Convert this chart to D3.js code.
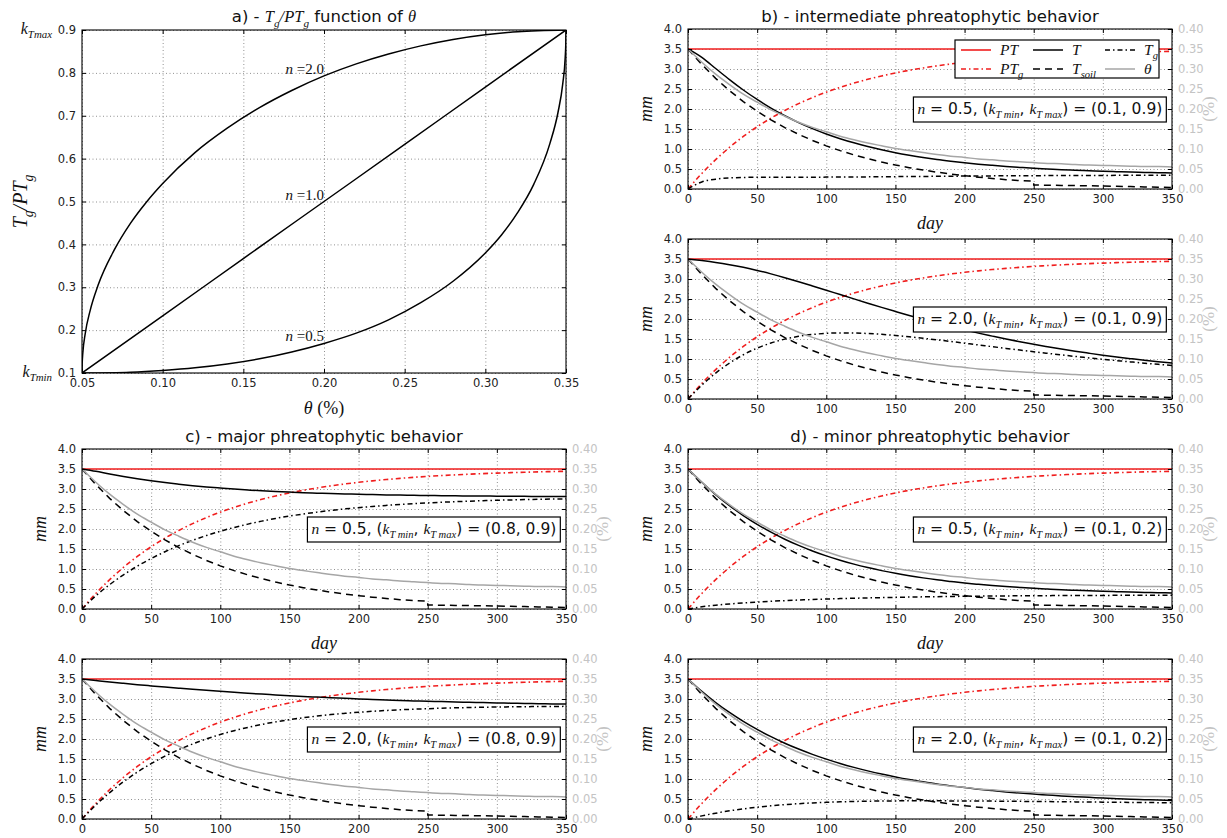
<!DOCTYPE html>
<html>
<head>
<meta charset="utf-8">
<script src="https://cdn.jsdelivr.net/npm/d3@7"></script>
<style>
  body { margin: 0; background: #fff; }
  svg { display: block; }
</style>
</head>
<body>
<svg id="fig" width="1227" height="838"></svg>
<script>
// ---------------------------------------------------------------
// Panel a: groundwater transpiration ratio Tg/PTg versus soil moisture
// ---------------------------------------------------------------
const thetaN20 = [0.05, 0.0501, 0.0505, 0.052, 0.055, 0.06, 0.07, 0.08, 0.09, 0.10, 0.12, 0.14, 0.16, 0.18, 0.20, 0.22, 0.24, 0.26, 0.28, 0.30, 0.32, 0.35];
const ratioN20 = [0.100, 0.121, 0.146, 0.192, 0.245, 0.305, 0.387, 0.449, 0.499, 0.542, 0.614, 0.671, 0.719, 0.759, 0.793, 0.821, 0.844, 0.863, 0.878, 0.889, 0.896, 0.900];
const thetaN10 = [0.05, 0.10, 0.15, 0.20, 0.25, 0.30, 0.35];
const ratioN10 = [0.100, 0.233, 0.367, 0.500, 0.633, 0.767, 0.900];
const thetaN05 = [0.05, 0.08, 0.10, 0.12, 0.14, 0.16, 0.18, 0.20, 0.22, 0.24, 0.26, 0.28, 0.30, 0.31, 0.32, 0.33, 0.34, 0.345, 0.348, 0.3495, 0.3499, 0.35];
const ratioN05 = [0.100, 0.102, 0.106, 0.112, 0.121, 0.133, 0.149, 0.169, 0.193, 0.224, 0.264, 0.314, 0.380, 0.422, 0.474, 0.540, 0.635, 0.707, 0.775, 0.836, 0.871, 0.900];
const exponentLabels = ["n=2.0", "n=1.0", "n=0.5"];
const thetaTicksA = [0.05, 0.10, 0.15, 0.20, 0.25, 0.30, 0.35];
const ratioTicksA = [0.1, 0.2, 0.3, 0.4, 0.5, 0.6, 0.7, 0.8, 0.9];

// ---------------------------------------------------------------
// Panels b-d: daily series (mm) and soil moisture (%)
// ---------------------------------------------------------------
const days = [0, 10, 20, 30, 40, 50, 60, 70, 80, 90, 100, 110, 120, 130, 140, 150, 160, 170, 180, 190, 200, 210, 220, 230, 240, 250, 260, 270, 280, 290, 300, 310, 320, 330, 340, 350];
const ptDays = [0, 350];
const ptMm = [3.5, 3.5];
const ptgMm = [0, 0.389, 0.734, 1.041, 1.314, 1.556, 1.772, 1.964, 2.134, 2.286, 2.421, 2.541, 2.647, 2.742, 2.826, 2.901, 2.967, 3.026, 3.079, 3.126, 3.167, 3.204, 3.237, 3.266, 3.292, 3.315, 3.336, 3.354, 3.370, 3.385, 3.397, 3.409, 3.419, 3.428, 3.436, 3.443];
const thetaPct = [0.350, 0.317, 0.287, 0.261, 0.237, 0.217, 0.198, 0.182, 0.167, 0.154, 0.143, 0.132, 0.123, 0.115, 0.108, 0.101, 0.096, 0.091, 0.086, 0.082, 0.079, 0.075, 0.073, 0.070, 0.068, 0.066, 0.064, 0.063, 0.061, 0.060, 0.059, 0.058, 0.057, 0.056, 0.056, 0.055];
const tsoilDays = [0, 10, 20, 30, 40, 50, 60, 70, 80, 90, 100, 110, 120, 130, 140, 150, 160, 170, 180, 190, 200, 210, 220, 230, 240, 250, 250, 260, 270, 280, 290, 300, 310, 320, 330, 340, 350];
const tsoilMm = [3.500, 3.112, 2.766, 2.459, 2.186, 1.944, 1.728, 1.536, 1.366, 1.214, 1.079, 0.959, 0.853, 0.758, 0.674, 0.599, 0.533, 0.474, 0.421, 0.375, 0.333, 0.296, 0.263, 0.234, 0.208, 0.195, 0.100, 0.095, 0.090, 0.085, 0.080, 0.075, 0.068, 0.060, 0.052, 0.045, 0.040];

const tgB05 = [0, 0.177, 0.246, 0.276, 0.289, 0.294, 0.295, 0.295, 0.295, 0.296, 0.297, 0.299, 0.301, 0.303, 0.306, 0.309, 0.312, 0.314, 0.317, 0.320, 0.323, 0.325, 0.328, 0.330, 0.332, 0.333, 0.335, 0.336, 0.338, 0.339, 0.340, 0.341, 0.342, 0.343, 0.344, 0.344];
const tB05 = [3.500, 3.289, 3.012, 2.735, 2.475, 2.238, 2.023, 1.831, 1.661, 1.510, 1.376, 1.258, 1.154, 1.061, 0.980, 0.908, 0.845, 0.788, 0.738, 0.695, 0.656, 0.621, 0.591, 0.564, 0.540, 0.518, 0.500, 0.482, 0.468, 0.455, 0.443, 0.432, 0.423, 0.415, 0.408, 0.401];
const tgB20 = [0, 0.348, 0.648, 0.899, 1.106, 1.271, 1.400, 1.497, 1.566, 1.613, 1.641, 1.652, 1.650, 1.638, 1.616, 1.589, 1.555, 1.518, 1.479, 1.438, 1.395, 1.351, 1.309, 1.265, 1.223, 1.182, 1.142, 1.103, 1.064, 1.028, 0.993, 0.960, 0.928, 0.896, 0.867, 0.840];
const tB20 = [3.500, 3.460, 3.414, 3.358, 3.292, 3.215, 3.128, 3.033, 2.932, 2.827, 2.720, 2.611, 2.503, 2.396, 2.290, 2.188, 2.088, 1.992, 1.900, 1.813, 1.728, 1.647, 1.572, 1.499, 1.431, 1.367, 1.307, 1.249, 1.194, 1.144, 1.096, 1.051, 1.009, 0.968, 0.931, 0.897];
const tgC05 = [0, 0.329, 0.609, 0.854, 1.071, 1.262, 1.432, 1.584, 1.717, 1.837, 1.944, 2.038, 2.122, 2.197, 2.264, 2.323, 2.375, 2.422, 2.464, 2.502, 2.534, 2.564, 2.590, 2.613, 2.634, 2.652, 2.669, 2.683, 2.696, 2.708, 2.718, 2.727, 2.735, 2.742, 2.749, 2.754];
const tC05 = [3.500, 3.441, 3.375, 3.313, 3.257, 3.206, 3.160, 3.120, 3.083, 3.051, 3.023, 2.997, 2.975, 2.955, 2.938, 2.922, 2.908, 2.896, 2.885, 2.877, 2.867, 2.860, 2.853, 2.847, 2.842, 2.837, 2.834, 2.829, 2.826, 2.824, 2.821, 2.818, 2.816, 2.814, 2.813, 2.811];
const tgC20 = [0, 0.350, 0.659, 0.932, 1.173, 1.384, 1.570, 1.734, 1.876, 2.002, 2.112, 2.208, 2.291, 2.364, 2.428, 2.483, 2.531, 2.573, 2.610, 2.641, 2.668, 2.692, 2.713, 2.730, 2.745, 2.758, 2.770, 2.779, 2.787, 2.794, 2.799, 2.805, 2.808, 2.812, 2.814, 2.816];
const tC20 = [3.500, 3.462, 3.425, 3.391, 3.359, 3.328, 3.298, 3.270, 3.242, 3.216, 3.191, 3.167, 3.144, 3.122, 3.102, 3.082, 3.064, 3.047, 3.031, 3.016, 3.001, 2.988, 2.976, 2.964, 2.953, 2.943, 2.935, 2.925, 2.917, 2.910, 2.902, 2.896, 2.889, 2.884, 2.878, 2.873];
const tgD05 = [0, 0.056, 0.095, 0.126, 0.151, 0.173, 0.192, 0.209, 0.224, 0.237, 0.249, 0.260, 0.269, 0.278, 0.285, 0.292, 0.298, 0.304, 0.309, 0.314, 0.317, 0.321, 0.324, 0.327, 0.330, 0.332, 0.334, 0.335, 0.337, 0.339, 0.340, 0.341, 0.342, 0.343, 0.344, 0.344];
const tD05 = [3.500, 3.168, 2.861, 2.585, 2.337, 2.117, 1.920, 1.745, 1.590, 1.451, 1.328, 1.219, 1.122, 1.036, 0.959, 0.891, 0.831, 0.778, 0.730, 0.689, 0.650, 0.617, 0.587, 0.561, 0.538, 0.517, 0.498, 0.481, 0.467, 0.455, 0.443, 0.432, 0.423, 0.415, 0.408, 0.401];
const tgD20 = [0, 0.078, 0.145, 0.204, 0.253, 0.295, 0.330, 0.359, 0.383, 0.402, 0.417, 0.429, 0.438, 0.445, 0.449, 0.453, 0.454, 0.455, 0.454, 0.453, 0.452, 0.449, 0.447, 0.444, 0.441, 0.438, 0.435, 0.431, 0.428, 0.425, 0.421, 0.418, 0.415, 0.412, 0.409, 0.406];
const tD20 = [3.500, 3.190, 2.911, 2.663, 2.439, 2.239, 2.058, 1.895, 1.749, 1.616, 1.496, 1.388, 1.291, 1.203, 1.123, 1.052, 0.987, 0.929, 0.875, 0.828, 0.785, 0.745, 0.710, 0.678, 0.649, 0.623, 0.600, 0.577, 0.558, 0.541, 0.524, 0.509, 0.496, 0.484, 0.473, 0.463];

const dayTicks = [0, 50, 100, 150, 200, 250, 300, 350];
const mmTicks = [0.0, 0.5, 1.0, 1.5, 2.0, 2.5, 3.0, 3.5, 4.0];
const pctTicks = [0.00, 0.05, 0.10, 0.15, 0.20, 0.25, 0.30, 0.35, 0.40];

// ---------------------------------------------------------------
// Styling and layout
// ---------------------------------------------------------------
const SANS = "'DejaVu Sans', sans-serif";
const SERIF = "'Liberation Serif', 'DejaVu Serif', serif";
const RED = "#f01e1e";
const GRAY = "#a6a6a6";
const LIGHT = "#c4c4c4";
const DASHDOT = "5,3,1.5,3";
const DASHED = "7,5";

const PW = 484, PH = 160;
const COL_X = { L: 82, R: 688 };
const ROW_Y = [29, 239, 449, 659];

const svg = d3.select("#fig");
const defs = svg.append("defs");

// text made of plain, italic-serif and subscript pieces
function richText(parent, x, y, parts, opts) {
  const size = opts.size;
  const t = parent.append("text")
    .attr("x", x).attr("y", y)
    .attr("font-size", size)
    .attr("text-anchor", opts.anchor || "start")
    .attr("fill", opts.fill || "#111");
  if (opts.transform) t.attr("transform", opts.transform);
  let shift = 0;
  parts.forEach(p => {
    const ts = t.append("tspan").text(p.t)
      .attr("font-family", p.serif ? SERIF : SANS)
      .attr("font-style", p.it ? "italic" : "normal");
    const target = p.sub ? size * 0.28 : 0;
    if (target !== shift) { ts.attr("dy", target - shift); shift = target; }
    if (p.sub) ts.attr("font-size", size * 0.68);
  });
  return t;
}

function styleAxis(sel, color) {
  sel.select(".domain").remove();
  sel.selectAll(".tick line").attr("stroke", "#000").attr("stroke-width", 1);
  sel.selectAll(".tick text").attr("fill", color || "#222")
    .attr("font-family", SANS).attr("font-size", 11.5);
}

function gridAndFrame(g, xs, ys, box, xTicks, yTicks) {
  const grid = g.append("g");
  grid.append("g").attr("transform", `translate(0,${box.y + box.h})`)
    .call(d3.axisBottom(xs).tickValues(xTicks).tickSize(-box.h).tickFormat(""));
  grid.append("g").attr("transform", `translate(${box.x},0)`)
    .call(d3.axisLeft(ys).tickValues(yTicks).tickSize(-box.w).tickFormat(""));
  grid.selectAll(".domain").remove();
  grid.selectAll(".tick line")
    .attr("stroke", "#000").attr("stroke-opacity", 0.55)
    .attr("stroke-width", 0.8).attr("stroke-dasharray", "1,2.5");
}

function tickAxes(g, xs, ys, box, o) {
  const bottom = box.y + box.h, right = box.x + box.w;
  const xb = g.append("g").attr("transform", `translate(0,${bottom})`)
    .call(d3.axisBottom(xs).tickValues(o.xTicks).tickSizeInner(-4).tickSizeOuter(0).tickPadding(6).tickFormat(o.xFmt));
  styleAxis(xb);
  const xt = g.append("g").attr("transform", `translate(0,${box.y})`)
    .call(d3.axisTop(xs).tickValues(o.xTicks).tickSizeInner(-4).tickSizeOuter(0).tickFormat(""));
  styleAxis(xt);
  const yl = g.append("g").attr("transform", `translate(${box.x},0)`)
    .call(d3.axisLeft(ys).tickValues(o.yTicks).tickSizeInner(-4).tickSizeOuter(0).tickPadding(6).tickFormat(o.yFmt));
  styleAxis(yl);
  const yr = g.append("g").attr("transform", `translate(${right},0)`);
  if (o.y2) {
    yr.call(d3.axisRight(o.y2).tickValues(o.y2Ticks).tickSizeInner(-4).tickSizeOuter(0).tickPadding(6).tickFormat(o.y2Fmt));
    styleAxis(yr, LIGHT);
  } else {
    yr.call(d3.axisRight(ys).tickValues(o.yTicks).tickSizeInner(-4).tickSizeOuter(0).tickFormat(""));
    styleAxis(yr);
  }
  g.append("rect").attr("x", box.x).attr("y", box.y).attr("width", box.w).attr("height", box.h)
    .attr("fill", "none").attr("stroke", "#000").attr("stroke-width", 1.1);
}

// ---------------------------------------------------------------
// Panel a
// ---------------------------------------------------------------
(function drawPanelA() {
  const box = { x: 82, y: 30, w: 484, h: 343 };
  const g = svg.append("g");
  const xs = d3.scaleLinear().domain([0.05, 0.35]).range([box.x, box.x + box.w]);
  const ys = d3.scaleLinear().domain([0.1, 0.9]).range([box.y + box.h, box.y]);

  gridAndFrame(g, xs, ys, box, thetaTicksA, ratioTicksA);

  defs.append("clipPath").attr("id", "clip-a").append("rect")
    .attr("x", box.x).attr("y", box.y).attr("width", box.w).attr("height", box.h);
  const line = d3.line().x(d => xs(d[0])).y(d => ys(d[1])).curve(d3.curveMonotoneX);
  const curves = [[thetaN20, ratioN20], [thetaN10, ratioN10], [thetaN05, ratioN05]];
  const lines = g.append("g").attr("clip-path", "url(#clip-a)");
  curves.forEach(([tx, ry]) => {
    lines.append("path").datum(d3.zip(tx, ry)).attr("d", line)
      .attr("fill", "none").attr("stroke", "#000").attr("stroke-width", 1.5);
  });

  // n labels sit just above each curve, ending at theta = 0.20
  curves.forEach(([tx, ry], i) => {
    const k = tx.indexOf(0.20);
    const [nPart, rest] = exponentLabels[i].split("=");
    richText(g, xs(tx[k]), ys(ry[k]) - 2, [
      { t: nPart + " ", serif: true, it: true },
      { t: "=" + rest, serif: true }
    ], { size: 15, anchor: "end" });
  });

  tickAxes(g, xs, ys, box, {
    xTicks: thetaTicksA, xFmt: d3.format(".2f"),
    yTicks: ratioTicksA, yFmt: d3.format(".1f")
  });

  // bound labels beside the end ticks
  richText(g, 52, ys(0.9) + 4, [
    { t: "k", serif: true, it: true }, { t: "Tmax", serif: true, it: true, sub: true }
  ], { size: 16, anchor: "end" });
  richText(g, 52, ys(0.1) + 4, [
    { t: "k", serif: true, it: true }, { t: "Tmin", serif: true, it: true, sub: true }
  ], { size: 16, anchor: "end" });

  // title
  richText(g, box.x + box.w / 2, box.y - 8, [
    { t: "a) - " },
    { t: "T", serif: true, it: true }, { t: "g", serif: true, it: true, sub: true },
    { t: "/PT", serif: true, it: true }, { t: "g", serif: true, it: true, sub: true },
    { t: " function of " },
    { t: "θ", serif: true, it: true }
  ], { size: 16.5, anchor: "middle" });

  // axis labels
  richText(g, box.x + box.w / 2, box.y + box.h + 41, [
    { t: "θ", serif: true, it: true }, { t: " (%)", serif: true }
  ], { size: 18, anchor: "middle" });
  const cy = box.y + box.h / 2;
  richText(g, 27, cy, [
    { t: "T", serif: true, it: true }, { t: "g", serif: true, it: true, sub: true },
    { t: "/PT", serif: true, it: true }, { t: "g", serif: true, it: true, sub: true }
  ], { size: 20, anchor: "middle", transform: `rotate(-90,27,${cy})` });
})();

// ---------------------------------------------------------------
// Panels b, c, d
// ---------------------------------------------------------------
const panels = [
  { id: "b1", col: "R", row: 0, title: "b) - intermediate phreatophytic behavior", tg: tgB05, t: tB05, n: "0.5", k: "(0.1, 0.9)", legend: true, dayLabel: true },
  { id: "b2", col: "R", row: 1, tg: tgB20, t: tB20, n: "2.0", k: "(0.1, 0.9)" },
  { id: "c1", col: "L", row: 2, title: "c) - major phreatophytic behavior", tg: tgC05, t: tC05, n: "0.5", k: "(0.8, 0.9)", dayLabel: true },
  { id: "c2", col: "L", row: 3, tg: tgC20, t: tC20, n: "2.0", k: "(0.8, 0.9)" },
  { id: "d1", col: "R", row: 2, title: "d) - minor phreatophytic behavior", tg: tgD05, t: tD05, n: "0.5", k: "(0.1, 0.2)", dayLabel: true },
  { id: "d2", col: "R", row: 3, tg: tgD20, t: tD20, n: "2.0", k: "(0.1, 0.2)" }
];

const seriesStyles = [
  { name: [{ t: "PT", serif: true, it: true }], color: RED, dash: null, width: 1.6 },
  { name: [{ t: "PT", serif: true, it: true }, { t: "g", serif: true, it: true, sub: true }], color: RED, dash: DASHDOT, width: 1.6 },
  { name: [{ t: "T", serif: true, it: true }], color: "#000", dash: null, width: 1.5 },
  { name: [{ t: "T", serif: true, it: true }, { t: "soil", serif: true, it: true, sub: true }], color: "#000", dash: DASHED, width: 1.5 },
  { name: [{ t: "T", serif: true, it: true }, { t: "g", serif: true, it: true, sub: true }], color: "#000", dash: DASHDOT, width: 1.5 },
  { name: [{ t: "θ", serif: true, it: true }], color: GRAY, dash: null, width: 1.5 }
];

panels.forEach(p => {
  const box = { x: COL_X[p.col], y: ROW_Y[p.row], w: PW, h: PH };
  const g = svg.append("g");
  const xs = d3.scaleLinear().domain([0, 350]).range([box.x, box.x + box.w]);
  const ys = d3.scaleLinear().domain([0, 4]).range([box.y + box.h, box.y]);
  const y2 = d3.scaleLinear().domain([0, 0.4]).range([box.y + box.h, box.y]);

  gridAndFrame(g, xs, ys, box, dayTicks, mmTicks);

  defs.append("clipPath").attr("id", "clip-" + p.id).append("rect")
    .attr("x", box.x).attr("y", box.y).attr("width", box.w).attr("height", box.h);
  const lines = g.append("g").attr("clip-path", `url(#clip-${p.id})`);

  const smooth = d3.line().x(d => xs(d[0])).y(d => ys(d[1])).curve(d3.curveMonotoneX);
  const straight = d3.line().x(d => xs(d[0])).y(d => ys(d[1]));
  const smoothPct = d3.line().x(d => xs(d[0])).y(d => y2(d[1])).curve(d3.curveMonotoneX);

  const data = [
    [d3.zip(ptDays, ptMm), straight],
    [d3.zip(days, ptgMm), smooth],
    [d3.zip(days, p.t), smooth],
    [d3.zip(tsoilDays, tsoilMm), straight],
    [d3.zip(days, p.tg), smooth],
    [d3.zip(days, thetaPct), smoothPct]
  ];
  data.forEach(([pts, gen], i) => {
    const s = seriesStyles[i];
    const path = lines.append("path").datum(pts).attr("d", gen)
      .attr("fill", "none").attr("stroke", s.color).attr("stroke-width", s.width);
    if (s.dash) path.attr("stroke-dasharray", s.dash);
  });

  tickAxes(g, xs, ys, box, {
    xTicks: dayTicks, xFmt: d3.format("d"),
    yTicks: mmTicks, yFmt: d3.format(".1f"),
    y2: y2, y2Ticks: pctTicks, y2Fmt: d3.format(".2f")
  });

  // axis labels
  const cy = box.y + box.h / 2;
  const lx = box.x - 36;
  richText(g, lx, cy, [{ t: "mm", serif: true, it: true }],
    { size: 18, anchor: "middle", transform: `rotate(-90,${lx},${cy})` });
  const rx = box.x + box.w + 42;
  richText(g, rx, cy, [{ t: "(%)", serif: true }],
    { size: 17, anchor: "middle", fill: LIGHT, transform: `rotate(-90,${rx},${cy})` });
  if (p.dayLabel) {
    richText(g, box.x + box.w / 2, box.y + box.h + 40, [{ t: "day", serif: true, it: true }],
      { size: 18, anchor: "middle" });
  }
  if (p.title) {
    richText(g, box.x + box.w / 2, box.y - 7, [{ t: p.title }], { size: 16.5, anchor: "middle" });
  }

  // parameter box, right-aligned at mid height
  const ann = richText(g, box.x + box.w * 0.98, ys(2.0) + 5, [
    { t: "n", serif: true, it: true },
    { t: " = " + p.n + ", (" },
    { t: "k", serif: true, it: true }, { t: "T min", serif: true, it: true, sub: true },
    { t: ", " },
    { t: "k", serif: true, it: true }, { t: "T max", serif: true, it: true, sub: true },
    { t: ") = " + p.k }
  ], { size: 15.5, anchor: "end" });
  const bb = ann.node().getBBox();
  g.insert("rect", function () { return ann.node(); })
    .attr("x", bb.x - 4).attr("y", ys(2.0) - 12)
    .attr("width", bb.width + 8).attr("height", 25)
    .attr("fill", "#fff").attr("stroke", "#000").attr("stroke-width", 1.2);

  if (p.legend) {
    const lg = g.append("g");
    lg.append("rect").attr("x", 955).attr("y", 40).attr("width", 204).attr("height", 38)
      .attr("fill", "#fff").attr("stroke", "#000").attr("stroke-width", 1.2);
    const colX = [961, 1033, 1105];
    const rowY = [50, 69];
    seriesStyles.forEach((s, k) => {
      const c = Math.floor(k / 2), r = k % 2;
      const ln = lg.append("line")
        .attr("x1", colX[c]).attr("x2", colX[c] + 30)
        .attr("y1", rowY[r]).attr("y2", rowY[r])
        .attr("stroke", s.color).attr("stroke-width", s.width);
      if (s.dash) ln.attr("stroke-dasharray", s.dash);
      richText(lg, colX[c] + 39, rowY[r] + 5, s.name, { size: 15.5 });
    });
  }
});
</script>
</body>
</html>
